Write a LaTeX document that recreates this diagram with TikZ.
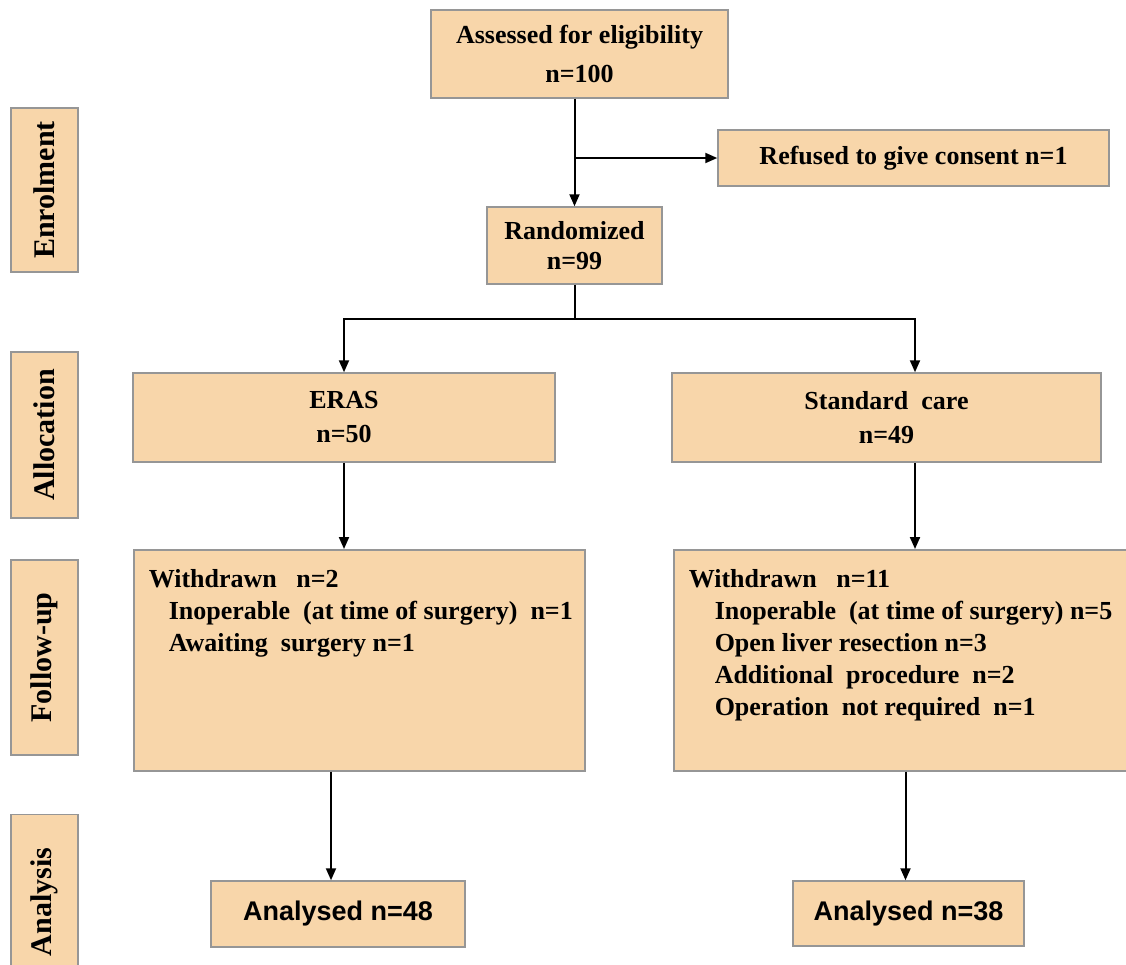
\documentclass[tikz,border=0pt]{standalone}
\usepackage{fontspec}
\setmainfont{Liberation Serif}
\newfontfamily\arialfont{Liberation Sans}
\usetikzlibrary{arrows.meta}
\definecolor{peach}{RGB}{248,214,170}
\definecolor{edgegrey}{RGB}{150,150,150}

\begin{document}
\begin{tikzpicture}[x=1pt, y=-1pt,
  box/.style={draw=edgegrey, fill=peach, line width=1.5pt, inner sep=0pt, align=center,
    font=\bfseries\fontsize{26}{30}\selectfont},
  side/.style={box, rotate=90, minimum height=67pt, font=\bfseries\fontsize{30}{36}\selectfont},
  result/.style={box, font=\arialfont\bfseries\fontsize{27}{32}\selectfont},
  arr/.style={-{Triangle[length=12pt,width=10pt]}, line width=2pt}]
\useasboundingbox[fill=white] (0,0) rectangle (1126,964);
% Flow of patients through the trial
\node[side, minimum width=164pt] (enrol) at (44.5,190) {Enrolment};
\node[side, minimum width=166pt] (alloc) at (44.5,435) {Allocation};
\node[side, minimum width=195pt] (follow) at (44.5,657.5) {Follow-up};
\node[side, minimum width=175pt] (analysis) at (44.5,902) {Analysis};

\node[box, minimum width=297pt, minimum height=88pt] (assess) at (579.5,54) {Assessed for eligibility\\[9pt] n=100};
\node[box, minimum width=391pt, minimum height=56pt] (refuse) at (913.5,158) {Refused to give consent n=1};
\node[box, minimum width=175pt, minimum height=77pt] (rand) at (574.5,245.5) {Randomized\\ n=99};
\node[box, minimum width=422pt, minimum height=89pt] (eras) at (344,417.5) {ERAS\\[4pt] n=50};
\node[box, minimum width=429pt, minimum height=89pt] (std) at (886.5,417.5) {Standard~ care\\[4pt] n=49};

\node[box, anchor=north west] (wdl) at (133,549) {\parbox[c][221pt][t]{451pt}{\fontsize{26}{32}\selectfont\raggedright
  \vspace*{20pt}\hspace*{15pt}Withdrawn~~~n=2\\
  \hspace*{35pt}Inoperable~ (at time of surgery)~ n=1\\
  \hspace*{35pt}Awaiting~ surgery n=1}};
\node[box, anchor=north west] (wdr) at (673,549) {\parbox[c][221pt][t]{470pt}{\fontsize{26}{32}\selectfont\raggedright
  \vspace*{20pt}\hspace*{15pt}Withdrawn~~~n=11\\
  \hspace*{41pt}Inoperable~ (at time of surgery) n=5\\
  \hspace*{41pt}Open liver resection n=3\\
  \hspace*{41pt}Additional~ procedure~ n=2\\
  \hspace*{41pt}Operation~ not required~ n=1}};

\node[result, minimum width=254pt, minimum height=66pt] (anl) at (338,914) {Analysed n=48};
\node[result, minimum width=231pt, minimum height=65pt] (anr) at (908.5,913.5) {Analysed n=38};

\draw[arr] (assess.south -| rand.north) -- (rand.north);
\draw[arr] (rand.north |- refuse.west) -- (refuse.west);
\draw[arr] (rand.south) -- ++(0,34) -| (eras.north);
\draw[arr] (rand.south) -- ++(0,34) -| ([xshift=28.5pt]std.north);
\draw[arr] (eras.south) -- (eras.south |- wdl.north);
\draw[arr] ([xshift=28.5pt]std.south) -- ([xshift=28.5pt]std.south |- wdr.north);
\draw[arr] ([xshift=-7pt]anl.north |- wdl.south) -- ([xshift=-7pt]anl.north);
\draw[arr] ([xshift=-3pt]anr.north |- wdr.south) -- ([xshift=-3pt]anr.north);
\end{tikzpicture}
\end{document}
